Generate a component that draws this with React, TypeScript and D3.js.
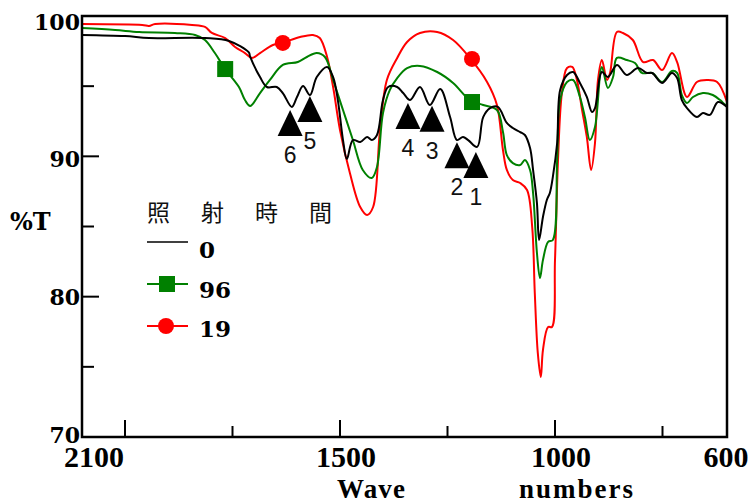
import React from 'react';
import * as d3 from 'd3';

const width = 753;
const height = 504;
const plot = { left: 82, right: 727, top: 16, bottom: 437 };

const waveDomain = [2100, 600];
const tDomain = [70, 100];

const yMajorTicks = [100, 90, 80, 70];
const yMinorTicks = [95, 85, 75];
const xMajorTicks = [2000, 1500, 1000];
const xMinorTicks = [1750, 1250, 750];
const xTickLabels = [2100, 1500, 1000, 600];

const legendTitle = ['照', '射', '時', '間'];
const legendLabels = ['0', '96', '19'];
const seriesColors = ['#000000', '#008000', '#ff0000'];

// irradiation time 0
const curve0 = [
  [2100, 98.65], [2000, 98.57], [1944, 98.43], [1814, 98.43], [1758, 98.22], [1712, 97.4],
  [1709, 97.1], [1686, 95.65], [1670, 94.94], [1647, 94.94], [1633, 94.51], [1612, 93.52],
  [1600, 94.23], [1586, 95.01], [1570, 94.37], [1554, 95.65], [1530, 96.37], [1516, 95.65],
  [1505, 94.01], [1493, 91.16], [1484, 89.81], [1470, 91.16], [1453, 91.02], [1437, 91.38],
  [1426, 91.16], [1414, 91.52], [1400, 94.01], [1388, 94.94], [1367, 94.94], [1353, 94.51],
  [1337, 94.01], [1314, 94.94], [1291, 93.66], [1267, 94.8], [1244, 92.8], [1228, 91.16],
  [1214, 91.38], [1202, 91.16], [1181, 90.67], [1167, 92.8], [1151, 93.44], [1133, 93.52],
  [1112, 92.38], [1098, 92.02], [1081, 91.73], [1070, 91.52], [1058, 90.59], [1051, 89.03],
  [1042, 86.67], [1037, 84.04], [1028, 85.68], [1019, 86.89], [1012, 87.39], [1005, 88.53],
  [995, 90.95], [988, 94.73], [972, 95.8], [958, 96.01], [942, 95.23], [926, 94.23],
  [914, 93.16], [907, 93.44], [891, 96.01], [877, 95.65], [856, 96.51], [833, 95.8],
  [807, 96.29], [786, 95.94], [774, 95.94], [751, 95.23], [728, 95.94], [716, 95.58],
  [705, 94.01], [693, 93.44], [670, 92.8], [656, 93.09], [640, 92.95], [621, 93.87], [600, 93.52],
];

// irradiation time 96
const curve96 = [
  [2100, 99.14], [2023, 99.0], [1967, 98.86], [1884, 98.79], [1837, 98.65], [1814, 98.29],
  [1791, 97.36], [1767, 96.22], [1735, 94.94], [1721, 94.01], [1709, 93.59], [1686, 94.51],
  [1663, 95.44], [1633, 96.51], [1598, 96.72], [1577, 97.08], [1554, 97.36], [1535, 97.08],
  [1516, 95.44], [1493, 93.3], [1470, 91.16], [1447, 89.03], [1426, 88.46], [1414, 89.24],
  [1400, 93.09], [1384, 94.73], [1367, 95.58], [1344, 96.29], [1314, 96.44], [1274, 96.01],
  [1237, 95.23], [1198, 94.01], [1167, 93.66], [1135, 93.3], [1121, 91.73], [1112, 90.09],
  [1098, 89.52], [1081, 89.38], [1070, 89.74], [1058, 89.03], [1051, 87.39], [1042, 83.11],
  [1035, 81.33], [1028, 82.61], [1016, 83.9], [1005, 84.04], [995, 89.74], [988, 94.01],
  [972, 95.3], [958, 95.44], [942, 94.23], [930, 92.73], [919, 91.16], [907, 92.09],
  [891, 96.37], [877, 94.87], [865, 95.65], [856, 97.01], [833, 96.86], [814, 96.65],
  [798, 95.94], [774, 95.94], [751, 95.3], [728, 96.08], [716, 95.94], [705, 94.37],
  [693, 93.8], [679, 94.23], [656, 94.51], [633, 94.37], [616, 94.01], [600, 93.52],
];

// irradiation time 19
const curve19 = [
  [2100, 99.43], [1960, 99.36], [1944, 99.29], [1930, 99.43], [1844, 99.36], [1814, 99.22],
  [1798, 98.79], [1767, 98.43], [1744, 97.79], [1721, 97.36], [1705, 97.01], [1686, 97.36],
  [1656, 97.93], [1635, 98.08], [1593, 98.5], [1563, 98.65], [1547, 98.43], [1530, 97.08],
  [1516, 94.94], [1500, 91.88], [1477, 88.81], [1453, 86.39], [1437, 85.82], [1423, 86.39],
  [1407, 91.88], [1391, 95.44], [1367, 97.01], [1344, 98.15], [1314, 98.79], [1274, 98.86],
  [1237, 98.29], [1198, 97.01], [1158, 95.3], [1135, 93.66], [1121, 90.45], [1112, 89.03],
  [1098, 88.31], [1081, 88.1], [1065, 87.6], [1053, 84.96], [1047, 80.26], [1040, 75.99],
  [1033, 74.27], [1028, 76.2], [1016, 77.84], [1007, 77.84], [1000, 82.61], [993, 89.74],
  [984, 94.51], [972, 96.29], [960, 96.37], [949, 95.44], [937, 93.3], [926, 91.38],
  [916, 89.03], [907, 90.95], [900, 95.44], [891, 96.86], [879, 95.44], [872, 95.94],
  [856, 98.86], [842, 98.79], [819, 98.29], [795, 96.72], [772, 96.86], [751, 96.15],
  [728, 97.36], [716, 96.72], [693, 94.23], [670, 95.3], [647, 95.44], [623, 95.3], [600, 93.87],
];

const squares96 = [[1767, 96.22], [1193, 93.87]];
const circles19 = [[1633, 98.08], [1193, 96.94]];

// numbered peaks on the 0 curve
const peakLabels = ['6', '5', '4', '3', '2', '1'];
const peakWaves = [1616, 1570, 1342, 1286, 1228, 1184];
const peakT = [93.3, 94.3, 93.8, 93.6, 91.0, 90.3];

const serifBold = '"DejaVu Serif", serif';
const serifNarrow = '"Liberation Serif", "Times New Roman", serif';

class App extends React.Component {
  chartRef = React.createRef<HTMLDivElement>();

  componentDidMount() {
    this.draw();
  }

  draw() {
    const root = d3.select(this.chartRef.current);
    root.selectAll('*').remove();

    const svg = root.append('svg')
      .attr('width', width)
      .attr('height', height)
      .style('display', 'block');

    const x = d3.scaleLinear().domain(waveDomain).range([plot.left, plot.right]);
    const y = d3.scaleLinear().domain(tDomain).range([plot.bottom, plot.top]);

    const line = d3.line<number[]>()
      .x(d => x(d[0]))
      .y(d => y(d[1]))
      .curve(d3.curveCatmullRom.alpha(0.5));

    // curves, red under green under black
    const curves = [curve19, curve96, curve0];
    const colors = [seriesColors[2], seriesColors[1], seriesColors[0]];
    svg.append('g')
      .selectAll('path')
      .data(curves)
      .join('path')
      .attr('d', d => line(d))
      .attr('fill', 'none')
      .attr('stroke', (d, i) => colors[i])
      .attr('stroke-width', 2)
      .attr('stroke-linejoin', 'round');

    // markers
    svg.append('g')
      .selectAll('rect')
      .data(squares96)
      .join('rect')
      .attr('x', d => x(d[0]) - 8)
      .attr('y', d => y(d[1]) - 8)
      .attr('width', 16)
      .attr('height', 16)
      .attr('fill', seriesColors[1]);

    svg.append('g')
      .selectAll('circle')
      .data(circles19)
      .join('circle')
      .attr('cx', d => x(d[0]))
      .attr('cy', d => y(d[1]))
      .attr('r', 8)
      .attr('fill', seriesColors[2]);

    // peak triangles
    const peaks = svg.append('g')
      .selectAll('g')
      .data(peakLabels)
      .join('g')
      .attr('transform', (d, i) => `translate(${x(peakWaves[i])},${y(peakT[i])})`);
    peaks.append('path')
      .attr('d', 'M0,0 L12.5,26 L-12.5,26 Z')
      .attr('fill', '#000');
    peaks.append('text')
      .attr('y', 53)
      .attr('text-anchor', 'middle')
      .style('font-family', '"Liberation Sans", Arial, sans-serif')
      .style('font-size', '23px')
      .attr('fill', '#111')
      .text(d => d);

    // frame
    svg.append('rect')
      .attr('x', plot.left)
      .attr('y', plot.top)
      .attr('width', plot.right - plot.left)
      .attr('height', plot.bottom - plot.top)
      .attr('fill', 'none')
      .attr('stroke', '#000')
      .attr('stroke-width', 2.5);

    // ticks
    const ticks = svg.append('g').attr('stroke', '#000').attr('stroke-width', 2);
    ticks.selectAll('.ymaj')
      .data(yMajorTicks.filter(t => t !== 100 && t !== 70))
      .join('line')
      .attr('x1', plot.left).attr('x2', plot.left + 17)
      .attr('y1', d => y(d)).attr('y2', d => y(d));
    ticks.selectAll('.ymin')
      .data(yMinorTicks)
      .join('line')
      .attr('x1', plot.left).attr('x2', plot.left + 12)
      .attr('y1', d => y(d)).attr('y2', d => y(d));
    ticks.selectAll('.xmaj')
      .data(xMajorTicks)
      .join('line')
      .attr('x1', d => x(d)).attr('x2', d => x(d))
      .attr('y1', plot.bottom).attr('y2', plot.bottom - 17);
    ticks.selectAll('.xmin')
      .data(xMinorTicks)
      .join('line')
      .attr('x1', d => x(d)).attr('x2', d => x(d))
      .attr('y1', plot.bottom).attr('y2', plot.bottom - 11);

    // y labels
    svg.append('g')
      .selectAll('text')
      .data(yMajorTicks)
      .join('text')
      .attr('x', plot.left - 2)
      .attr('y', d => y(d) + 6 + (d - 70) / 4)
      .attr('text-anchor', 'end')
      .style('font-family', serifBold)
      .style('font-weight', 'bold')
      .style('font-size', '22px')
      .text(d => d);

    svg.append('text')
      .attr('x', 10)
      .attr('y', 230)
      .style('font-family', serifBold)
      .style('font-weight', 'bold')
      .style('font-size', '24px')
      .text('%T');

    // x labels
    svg.append('g')
      .selectAll('text')
      .data(xTickLabels)
      .join('text')
      .attr('x', (d, i) => Math.min(x(d) + (i === 0 ? 12 : 6), width - 27))
      .attr('y', 467)
      .attr('text-anchor', 'middle')
      .style('font-family', serifNarrow)
      .style('font-weight', 'bold')
      .style('font-size', '30px')
      .text(d => d);

    svg.append('text')
      .attr('x', 337).attr('y', 498)
      .style('font-family', serifNarrow)
      .style('font-weight', 'bold')
      .style('font-size', '27px')
      .attr('textLength', 68)
      .text('Wave');
    svg.append('text')
      .attr('x', 519).attr('y', 498)
      .style('font-family', serifNarrow)
      .style('font-weight', 'bold')
      .style('font-size', '27px')
      .attr('textLength', 114)
      .text('numbers');

    // legend
    const legend = svg.append('g');
    const title = legend.append('text')
      .attr('y', 221)
      .style('font-family', '"Noto Sans CJK JP", sans-serif')
      .style('font-size', '23px')
      .attr('fill', '#111');
    title.selectAll('tspan')
      .data(legendTitle)
      .join('tspan')
      .attr('x', (d, i) => 147 + i * 54)
      .text(d => d);

    const rows = legend.selectAll('.row')
      .data(legendLabels)
      .join('g');
    rows.append('line')
      .attr('x1', 147).attr('x2', 188)
      .attr('y1', (d, i) => 242 + i * 42)
      .attr('y2', (d, i) => 242 + i * 42)
      .attr('stroke', (d, i) => seriesColors[i])
      .attr('stroke-width', (d, i) => (i === 0 ? 1.6 : 2));
    rows.filter((d, i) => i === 1)
      .append('rect')
      .attr('x', 159).attr('y', 242 + 42 - 8)
      .attr('width', 16).attr('height', 16)
      .attr('fill', seriesColors[1]);
    rows.filter((d, i) => i === 2)
      .append('circle')
      .attr('cx', 166).attr('cy', 242 + 84)
      .attr('r', 8)
      .attr('fill', seriesColors[2]);
    rows.append('text')
      .attr('x', 199)
      .attr('y', (d, i) => 258 + i * 39.5)
      .style('font-family', serifBold)
      .style('font-weight', 'bold')
      .style('font-size', '23px')
      .text(d => d);
  }

  render() {
    return (
      <div
        ref={this.chartRef}
        style={{ position: 'absolute', left: 0, top: 0, width, height, background: '#fff' }}
      />
    );
  }
}

export default App;
